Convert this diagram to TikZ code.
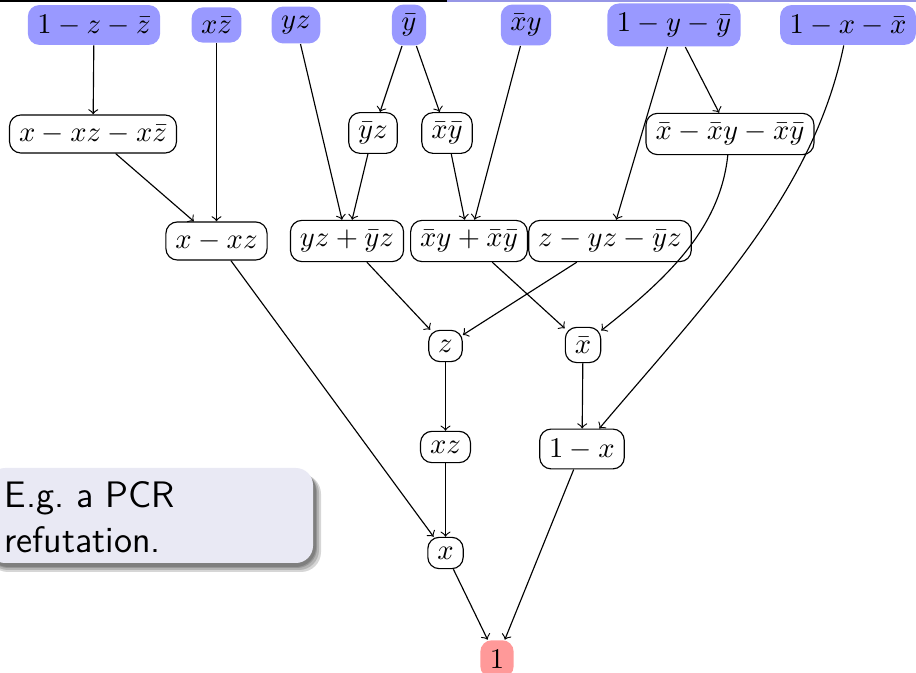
\documentclass[tikz,border=0pt]{standalone}
\definecolor{axfill}{RGB}{153,153,255}
\definecolor{goalfill}{RGB}{255,153,153}
\definecolor{calloutfill}{RGB}{233,233,244}
\definecolor{headblue}{RGB}{150,150,230}
\begin{document}
\begin{tikzpicture}[x=0.35pt,y=-0.35pt,
  every node/.style={inner sep=3.33pt},
  res/.style={draw, line width=0.4pt, rounded corners=4pt, fill=white},
  ax/.style={fill=axfill, rounded corners=4pt},
  goal/.style={fill=goalfill, rounded corners=4pt},
  edge/.style={->, line width=0.4pt},
  shadowlayer/.style={fill=black, opacity=0.16, rounded corners=7pt},
  calltext/.style={inner sep=0pt, anchor=base west, font=\fontsize{12.9}{15.5}\sffamily}]
\useasboundingbox (0,0) rectangle (916,673);
% header remnants
\fill[black] (0,0) rectangle (447,1.6);
\fill[headblue] (447,0) rectangle (916,2.4);

% axioms (top row)
\node[ax] (a1) at (94,25) {$1-z-\bar z$};
\node[ax] (a2) at (216.5,25) {$x\bar z$};
\node[ax] (a3) at (296,25) {$yz$};
\node[ax] (a4) at (409,25) {$\bar y$};
\node[ax] (a5) at (526,25) {$\bar x y$};
\node[ax] (a6) at (674,25) {$1-y-\bar y$};
\node[ax] (a7) at (848,25) {$1-x-\bar x$};

% row 2
\node[res] (b1) at (93,134) {$x-xz-x\bar z$};
\node[res] (b2) at (373,133) {$\bar y z$};
\node[res] (b3) at (447,133) {$\bar x\bar y$};
\node[res] (b4) at (730,134) {$\bar x-\bar x y-\bar x\bar y$};

% row 3
\node[res] (c1) at (216.5,241) {$x-xz$};
\node[res] (c2) at (347,241) {$yz+\bar y z$};
\node[res] (c3) at (469,241) {$\bar x y+\bar x\bar y$};
\node[res] (c4) at (610,241) {$z-yz-\bar y z$};

% row 4
\node[res] (d1) at (445.5,346) {$z$};
\node[res] (d2) at (583,345) {$\bar x$};

% row 5
\node[res] (e1) at (445.5,447) {$xz$};
\node[res] (e2) at (582,449) {$1-x$};

% row 6
\node[res] (f1) at (445.5,553) {$x$};

% goal
\node[goal] (g) at (497,659) {$1$};

% edges
\draw[edge] (a1) -- (b1);
\draw[edge] (a2) -- (c1);
\draw[edge] (b1) -- (c1);
\draw[edge] (a3) -- (c2);
\draw[edge] (a4) -- (b2);
\draw[edge] (a4) -- (b3);
\draw[edge] (b2) -- (c2);
\draw[edge] (b3) -- (c3);
\draw[edge] (a5) -- (c3);
\draw[edge] (a6) -- (c4);
\draw[edge] (a6) -- (b4);
\draw[edge] (a7) .. controls (813,194) and (708,300) .. (e2);
\draw[edge] (b4) .. controls (720,230) and (665,280) .. (d2);
\draw[edge] (c2) -- (d1);
\draw[edge] (c4) -- (d1);
\draw[edge] (c3) -- (d2);
\draw[edge] (c1) -- (f1);
\draw[edge] (d1) -- (e1);
\draw[edge] (e1) -- (f1);
\draw[edge] (d2) -- (e2);
\draw[edge] (f1) -- (g);
\draw[edge] (e2) -- (g);

% callout with soft shadow
\fill[shadowlayer] (-12,474) rectangle (321,572);
\fill[shadowlayer] (-12,473) rectangle (319,570);
\fill[shadowlayer] (-12,472) rectangle (317,568);
\fill[shadowlayer] (-12,471) rectangle (316,567);
\path[fill=calloutfill, rounded corners=6pt] (-12,468) rectangle (313,563);
\node[calltext] (l1) at (4,508) {E.g.\ a PCR};
\node[calltext] (l2) at (4,553) {refutation.};
\end{tikzpicture}
\end{document}
